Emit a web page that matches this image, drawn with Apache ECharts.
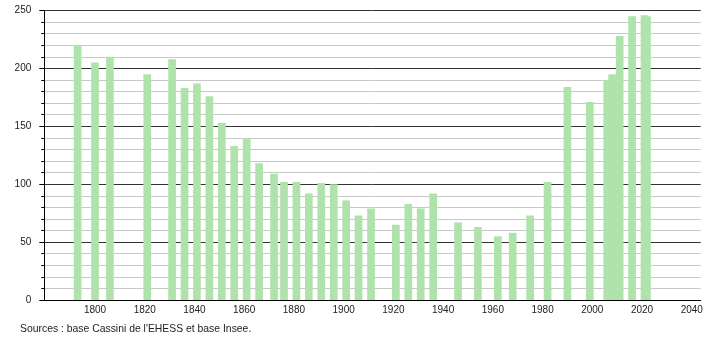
<!DOCTYPE html>
<html>
<head>
<meta charset="utf-8">
<script src="https://cdn.jsdelivr.net/npm/echarts@6/dist/echarts.min.js"></script>
<style>html,body{margin:0;padding:0;background:#fff}#c{width:710px;height:340px}</style>
</head>
<body>
<div id="c"></div>
<script>
var years = [1793,1800,1806,1821,1831,1836,1841,1846,1851,1856,1861,1866,1872,1876,1881,1886,1891,1896,1901,1906,1911,1921,1926,1931,1936,1946,1954,1962,1968,1975,1982,1990,1999,2006,2008,2011,2016,2021,2022];
var population = [220,205,210,195,208,183,187,176,153,133,140,118,109,102,102,92,101,100,86,73,79,65,83,79,92,67,63,55,58,73,102,184,171,190,195,228,245,246,245];
var xTickLabels = [1800,1820,1840,1860,1880,1900,1920,1940,1960,1980,2000,2020,2040];
var yTicks = [0,50,100,150,200,250];
var sourceText = "Sources : base Cassini de l'EHESS et base Insee.";

var data = years.map(function(y,i){return [y, population[i]];});
var chart = echarts.init(document.getElementById('c'), null, {renderer:'canvas'});
chart.setOption({
  animation:false,
  textStyle:{fontFamily:'Liberation Sans, Arial, sans-serif'},
  grid:{left:44.3, right:9.3, top:10.5, bottom:40, containLabel:false},
  title:{text:sourceText, left:20, top:324, padding:0, textStyle:{fontSize:10.4, fontWeight:'normal', color:'#222', fontFamily:'Liberation Sans, Arial, sans-serif'}},
  xAxis:{
    type:'value', min:1779.6, max:2043.6,
    axisLine:{show:true, onZero:false, lineStyle:{color:'#000', width:1}},
    axisTick:{show:false},
    splitLine:{show:false},
    axisLabel:{customValues:xTickLabels, fontSize:10, color:'#222', margin:5, formatter:function(v){return String(v);}}
  },
  yAxis:{
    type:'value', min:yTicks[0], max:yTicks[yTicks.length-1], interval:50,
    axisLine:{show:true, lineStyle:{color:'#000', width:1}},
    axisTick:{show:true, length:5, lineStyle:{color:'#000'}},
    minorTick:{show:true, splitNumber:5, length:3, lineStyle:{color:'#000'}},
    splitLine:{show:true, lineStyle:{color:'#333', width:1}},
    minorSplitLine:{show:true, lineStyle:{color:'#c8c8c8', width:1}},
    axisLabel:{fontSize:10, color:'#222', margin:13}
  },
  series:[{
    type:'bar', data:data, barWidth:7.7,
    itemStyle:{color:'#b0e3ac'},
    z:3
  }]
});
</script>
</body>
</html>
